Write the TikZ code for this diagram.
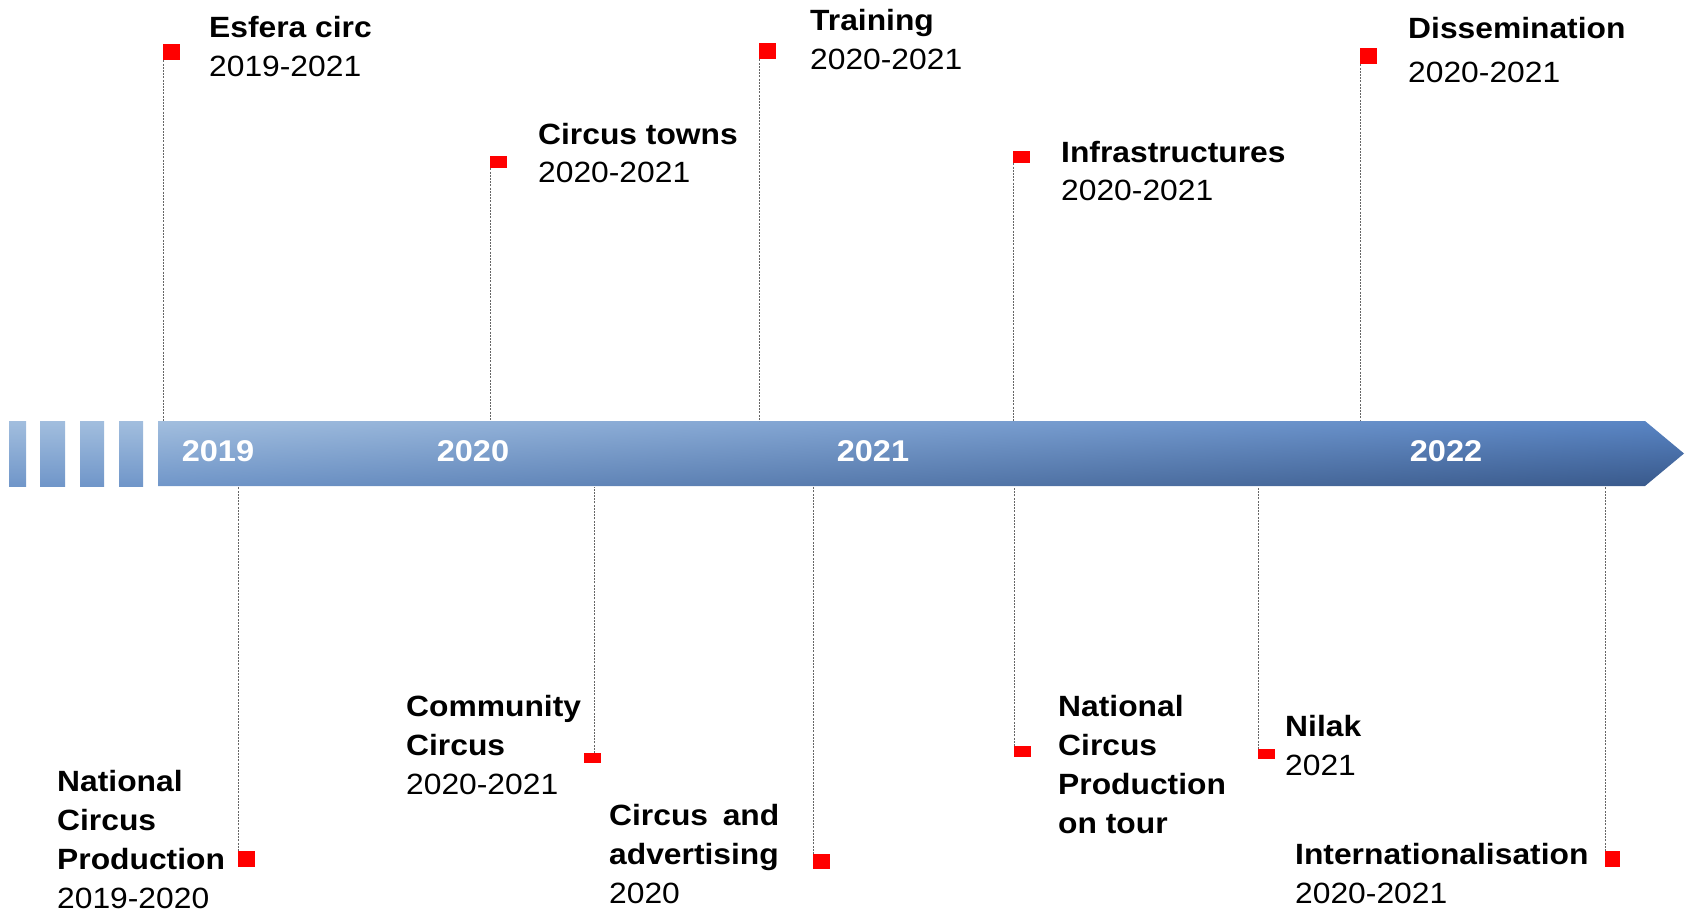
\documentclass[tikz,border=0pt]{standalone}
\usepackage{fontspec}
\setmainfont{Liberation Sans}[FakeStretch=1.085]
\usetikzlibrary{shadings}
\definecolor{barUL}{RGB}{162,190,222}
\definecolor{barLL}{RGB}{112,150,201}
\definecolor{barUR}{RGB}{88,132,196}
\definecolor{barLR}{RGB}{56,88,138}
\newcommand{\ttl}[1]{\textbf{#1}}
\begin{document}
\begin{tikzpicture}[x=1pt,y=-1pt,
    flag/.style={fill=red,inner sep=0pt,minimum width=17pt,minimum height=16pt,anchor=north west},
    leader/.style={black!60,line width=0.9pt,dash pattern=on 2pt off 1.2pt},
    item/.style={anchor=base west,align=left,inner sep=0pt,font=\fontsize{29.3}{38.7}\selectfont},
    year/.style={anchor=base,inner sep=0pt,text=white,font=\fontsize{30}{30}\selectfont\bfseries},
    stub/.style={top color=barUL,bottom color=barLL}]
    \useasboundingbox (0,0) rectangle (1690,912);

    % the time bar
    \shade[stub] (9,421) rectangle (26,486);
    \shade[stub] (40,421) rectangle (65,486);
    \shade[stub] (80,421) rectangle (104,486);
    \shade[stub] (119,421) rectangle (143,486);
    \shade[upper left=barUL,lower left=barLL,upper right=barUR,lower right=barLR]
        (158,421) -- (1645,421) -- (1684,453.5) -- (1645,486) -- (158,486) -- cycle;
    \coordinate (bartop) at (0,421);
    \coordinate (barbot) at (0,487);

    \node[year] (y2019) at (218,461) {2019};
    \node[year] (y2020) at (473,461) {2020};
    \node[year] (y2021) at (873,461) {2021};
    \node[year] (y2022) at (1446,461) {2022};

    % above the bar (nodes placed by the baseline of their last line)
    \node[flag] (f1) at (163,44) {};
    \node[flag,minimum height=12pt] (f2) at (490,156) {};
    \node[flag] (f3) at (759,43) {};
    \node[flag,minimum height=12pt] (f4) at (1013,151) {};
    \node[flag] (f5) at (1360,48) {};
    \foreach \f in {f1,f2,f3,f4,f5}
        \draw[leader] (\f.south west) -- (\f.south west |- bartop);

    \node[item] (esfera) at (209,77) {\ttl{Esfera circ}\\[1pt]2019-2021};
    \node[item] (towns) at (538,183) {\ttl{Circus towns}\\2020-2021};
    \node[item] (training) at (810,70) {\ttl{Training}\\[1pt]2020-2021};
    \node[item] (infra) at (1061,201) {\ttl{Infrastructures}\\2020-2021};
    \node[item] (dissem) at (1408,83) {\ttl{Dissemination}\\[6pt]2020-2021};

    % below the bar
    \node[flag] (g1) at (238,851) {};
    \node[flag,minimum height=10pt] (g2) at (584,753) {};
    \node[flag,minimum height=15pt] (g3) at (813,854) {};
    \node[flag,minimum height=11pt] (g4) at (1014,746) {};
    \node[flag,minimum height=10pt] (g5) at (1258,749) {};
    \node[flag,minimum width=15pt] (g6) at (1605,851) {};
    \foreach \g in {g1,g3,g4,g5,g6}
        \draw[leader] (\g.north west) -- (\g.north west |- barbot);
    \draw[leader] ([xshift=1.5pt]g2.north) -- ([xshift=1.5pt]g2.north |- barbot);

    \node[item] (natprod) at (57,908) {\ttl{National}\\\ttl{Circus}\\\ttl{Production}\\2019-2020};
    \node[item] (community) at (406,794) {\ttl{Community}\\\ttl{Circus}\\2020-2021};
    \node[item] (advert) at (609,903) {\ttl{Circus\hspace{0.5em}and}\\\ttl{advertising}\\2020};
    \node[item] (tour) at (1058,833) {\ttl{National}\\\ttl{Circus}\\\ttl{Production}\\\ttl{on tour}};
    \node[item] (nilak) at (1285,775) {\ttl{Nilak}\\2021};
    \node[item] (intl) at (1295,903) {\ttl{Internationalisation}\\2020-2021};
\end{tikzpicture}
\end{document}
